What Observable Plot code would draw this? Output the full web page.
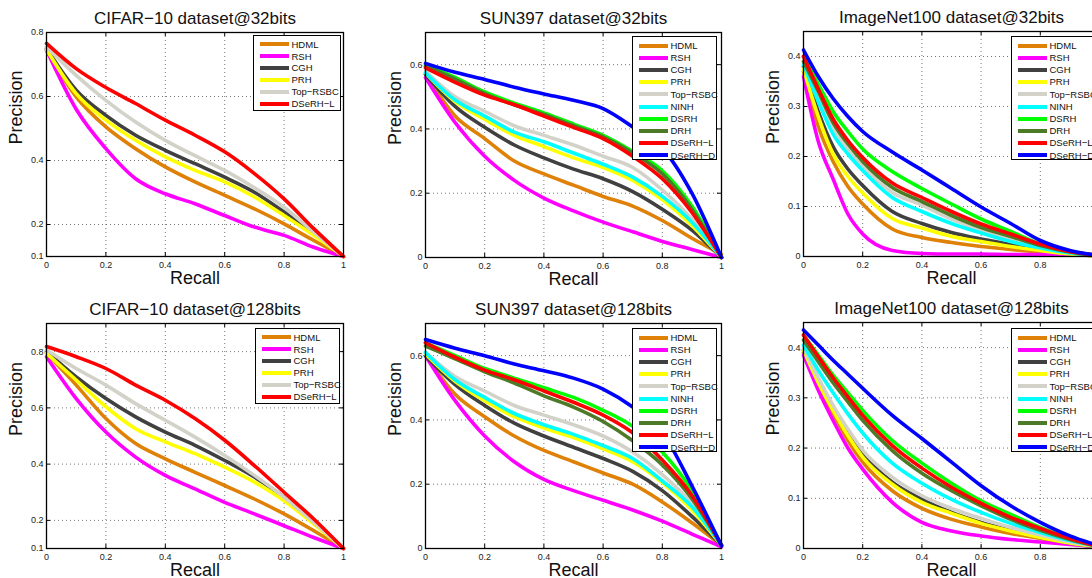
<!DOCTYPE html>
<html><head><meta charset="utf-8">
<script src="https://cdn.jsdelivr.net/npm/d3@7"></script>
<script src="https://cdn.jsdelivr.net/npm/@observablehq/plot@0.6"></script>
<style>
body{margin:0;background:#fff;}
#root{position:relative;width:1092px;height:578px;overflow:hidden;background:#fff;font-family:"Liberation Sans",Arial,Helvetica,sans-serif;}
.panel{position:absolute;}
.legend{position:absolute;border:1px solid #000;background:#fff;box-sizing:border-box;padding-top:2.5px;overflow:visible;}
.lrow{display:flex;align-items:center;white-space:nowrap;}
.sw{display:inline-block;margin-left:6px;width:28.5px;height:4px;flex:none;}
.lt{margin-left:3px;font-size:9.5px;line-height:1;color:#111;}
</style></head><body><div id="root"></div><script>
// ---- series names and colours (legend order = draw order) ----
const methods6  = ["HDML", "RSH", "CGH", "PRH", "Top−RSBC", "DSeRH−L"];
const methods10 = ["HDML", "RSH", "CGH", "PRH", "Top−RSBC", "NINH", "DSRH", "DRH", "DSeRH−L", "DSeRH−D"];
const methodColors = {
  "HDML": "#DF8107", "RSH": "#FF00FF", "CGH": "#404040", "PRH": "#FFFF00",
  "Top−RSBC": "#D3D2C9", "NINH": "#00FFFF", "DSRH": "#00FF00", "DRH": "#4D7A27",
  "DSeRH−L": "#FF0000", "DSeRH−D": "#0000FF"
};

// ---- recall sample points ----
const recall11 = [0, 0.1, 0.2, 0.3, 0.4, 0.5, 0.6, 0.7, 0.8, 0.9, 1];
const recall13 = [0, 0.05, 0.1, 0.15, 0.2, 0.3, 0.4, 0.5, 0.6, 0.7, 0.8, 0.9, 1];

// ---- tick labels ----
const xTicks = [0, 0.2, 0.4, 0.6, 0.8, 1];
const yTicksCifar = [0.1, 0.2, 0.4, 0.6, 0.8];
const yTicksSun = [0, 0.2, 0.4, 0.6];
const yTicksImageNet = [0, 0.1, 0.2, 0.3, 0.4];

// ---- precision values (rows follow methods6 / methods10 order) ----
const cifar32 = [
  [0.745, 0.599, 0.505, 0.437, 0.380, 0.333, 0.291, 0.249, 0.202, 0.150, 0.1],
  [0.745, 0.560, 0.437, 0.343, 0.296, 0.265, 0.228, 0.192, 0.166, 0.129, 0.1],
  [0.750, 0.620, 0.541, 0.479, 0.432, 0.390, 0.348, 0.301, 0.239, 0.171, 0.1],
  [0.747, 0.609, 0.526, 0.463, 0.411, 0.369, 0.333, 0.286, 0.228, 0.166, 0.1],
  [0.755, 0.666, 0.588, 0.520, 0.463, 0.415, 0.369, 0.315, 0.254, 0.176, 0.1],
  [0.766, 0.687, 0.628, 0.578, 0.526, 0.479, 0.427, 0.359, 0.280, 0.187, 0.1]
];
const sun32 = [
  [0.570, 0.440, 0.370, 0.300, 0.260, 0.225, 0.190, 0.160, 0.115, 0.060, 0.010],
  [0.560, 0.420, 0.315, 0.240, 0.185, 0.145, 0.110, 0.080, 0.050, 0.025, 0.000],
  [0.570, 0.470, 0.405, 0.350, 0.310, 0.275, 0.245, 0.205, 0.150, 0.085, 0.000],
  [0.575, 0.485, 0.430, 0.380, 0.345, 0.310, 0.280, 0.240, 0.180, 0.100, 0.000],
  [0.580, 0.500, 0.455, 0.410, 0.380, 0.350, 0.315, 0.280, 0.210, 0.120, 0.000],
  [0.575, 0.490, 0.440, 0.390, 0.360, 0.325, 0.290, 0.250, 0.190, 0.110, 0.000],
  [0.600, 0.560, 0.515, 0.480, 0.450, 0.415, 0.380, 0.330, 0.270, 0.160, 0.000],
  [0.595, 0.555, 0.510, 0.475, 0.445, 0.410, 0.375, 0.325, 0.260, 0.150, 0.000],
  [0.590, 0.545, 0.505, 0.475, 0.440, 0.405, 0.370, 0.315, 0.245, 0.140, 0.000],
  [0.604, 0.576, 0.554, 0.530, 0.509, 0.489, 0.463, 0.406, 0.340, 0.200, 0.000]
];
const imagenet32 = [
  [0.370, 0.260, 0.190, 0.140, 0.105, 0.055, 0.038, 0.028, 0.020, 0.014, 0.009, 0.004, 0.001],
  [0.360, 0.230, 0.155, 0.085, 0.045, 0.012, 0.006, 0.005, 0.005, 0.004, 0.004, 0.003, 0.002],
  [0.380, 0.290, 0.220, 0.175, 0.142, 0.090, 0.066, 0.048, 0.035, 0.024, 0.014, 0.006, 0.001],
  [0.375, 0.280, 0.205, 0.160, 0.127, 0.076, 0.057, 0.040, 0.030, 0.020, 0.012, 0.005, 0.001],
  [0.390, 0.320, 0.260, 0.213, 0.180, 0.128, 0.103, 0.075, 0.053, 0.035, 0.020, 0.008, 0.001],
  [0.385, 0.310, 0.245, 0.205, 0.172, 0.118, 0.090, 0.066, 0.047, 0.030, 0.017, 0.007, 0.001],
  [0.400, 0.345, 0.290, 0.250, 0.215, 0.170, 0.136, 0.105, 0.075, 0.050, 0.025, 0.010, 0.002],
  [0.390, 0.330, 0.268, 0.225, 0.190, 0.138, 0.110, 0.082, 0.058, 0.040, 0.022, 0.009, 0.001],
  [0.400, 0.335, 0.275, 0.232, 0.198, 0.147, 0.118, 0.090, 0.065, 0.045, 0.025, 0.010, 0.002],
  [0.413, 0.360, 0.316, 0.280, 0.250, 0.209, 0.173, 0.136, 0.099, 0.066, 0.032, 0.012, 0.002]
];
const cifar128 = [
  [0.794, 0.681, 0.562, 0.473, 0.419, 0.371, 0.324, 0.276, 0.223, 0.163, 0.1],
  [0.782, 0.633, 0.514, 0.425, 0.360, 0.312, 0.264, 0.223, 0.181, 0.139, 0.1],
  [0.800, 0.710, 0.633, 0.568, 0.514, 0.467, 0.413, 0.354, 0.282, 0.193, 0.1],
  [0.794, 0.699, 0.604, 0.526, 0.479, 0.437, 0.389, 0.336, 0.270, 0.187, 0.1],
  [0.806, 0.740, 0.681, 0.615, 0.556, 0.496, 0.431, 0.360, 0.282, 0.193, 0.1],
  [0.818, 0.782, 0.740, 0.681, 0.627, 0.562, 0.485, 0.395, 0.300, 0.205, 0.1]
];
const sun128 = [
  [0.600, 0.480, 0.410, 0.350, 0.305, 0.270, 0.235, 0.200, 0.145, 0.080, 0.010],
  [0.600, 0.460, 0.350, 0.270, 0.215, 0.180, 0.150, 0.120, 0.085, 0.045, 0.005],
  [0.600, 0.510, 0.445, 0.390, 0.350, 0.315, 0.280, 0.240, 0.180, 0.100, 0.010],
  [0.605, 0.520, 0.460, 0.410, 0.375, 0.345, 0.310, 0.270, 0.205, 0.120, 0.010],
  [0.610, 0.535, 0.490, 0.445, 0.415, 0.385, 0.350, 0.300, 0.230, 0.140, 0.010],
  [0.610, 0.525, 0.470, 0.420, 0.385, 0.355, 0.320, 0.280, 0.210, 0.130, 0.010],
  [0.640, 0.600, 0.560, 0.530, 0.500, 0.470, 0.430, 0.380, 0.300, 0.180, 0.010],
  [0.630, 0.590, 0.550, 0.515, 0.475, 0.440, 0.395, 0.335, 0.260, 0.155, 0.010],
  [0.640, 0.595, 0.555, 0.525, 0.490, 0.455, 0.415, 0.360, 0.275, 0.165, 0.010],
  [0.650, 0.623, 0.600, 0.574, 0.553, 0.530, 0.496, 0.440, 0.361, 0.195, 0.008]
];
const imagenet128 = [
  [0.390, 0.325, 0.270, 0.215, 0.172, 0.115, 0.080, 0.058, 0.043, 0.030, 0.020, 0.010, 0.003],
  [0.385, 0.315, 0.255, 0.200, 0.158, 0.092, 0.052, 0.035, 0.025, 0.018, 0.013, 0.008, 0.003],
  [0.395, 0.335, 0.280, 0.232, 0.189, 0.132, 0.098, 0.072, 0.052, 0.036, 0.022, 0.011, 0.003],
  [0.395, 0.330, 0.275, 0.225, 0.182, 0.128, 0.092, 0.070, 0.050, 0.035, 0.022, 0.011, 0.003],
  [0.400, 0.340, 0.285, 0.238, 0.196, 0.142, 0.105, 0.080, 0.060, 0.042, 0.027, 0.013, 0.004],
  [0.405, 0.355, 0.310, 0.268, 0.230, 0.170, 0.130, 0.098, 0.072, 0.050, 0.032, 0.016, 0.004],
  [0.425, 0.385, 0.345, 0.310, 0.275, 0.215, 0.170, 0.130, 0.095, 0.068, 0.042, 0.020, 0.004],
  [0.415, 0.372, 0.330, 0.292, 0.255, 0.195, 0.150, 0.115, 0.085, 0.058, 0.036, 0.018, 0.004],
  [0.425, 0.382, 0.340, 0.302, 0.265, 0.205, 0.160, 0.122, 0.090, 0.062, 0.040, 0.020, 0.004],
  [0.435, 0.405, 0.375, 0.347, 0.319, 0.265, 0.219, 0.172, 0.125, 0.085, 0.052, 0.025, 0.005]
];

// ---- layout (pixels) ----
const panels = [
  {title: "CIFAR−10 dataset@32bits", names: methods6, values: cifar32, recall: recall11, yDomain: [0.1, 0.8], yTicks: yTicksCifar,
   svg: {left: 0, top: 0, width: 364}, box: {l: 46, r: 343, t: 32, b: 256}, legend: {left: 253, top: 35, width: 88, height: 76, row: 11.9}},
  {title: "SUN397 dataset@32bits", names: methods10, values: sun32, recall: recall11, yDomain: [0, 0.7], yTicks: yTicksSun,
   svg: {left: 364, top: 0, width: 364}, box: {l: 425, r: 721, t: 32, b: 257}, legend: {left: 632, top: 36, width: 85, height: 124, row: 12.2}},
  {title: "ImageNet100 dataset@32bits", names: methods10, values: imagenet32, recall: recall13, yDomain: [0, 0.45], yTicks: yTicksImageNet,
   svg: {left: 728, top: 0, width: 380}, box: {l: 803, r: 1099, t: 31, b: 256}, legend: {left: 1011, top: 36, width: 85, height: 124, row: 12.2}},
  {title: "CIFAR−10 dataset@128bits", names: methods6, values: cifar128, recall: recall11, yDomain: [0.1, 0.9], yTicks: yTicksCifar,
   svg: {left: 0, top: 289, width: 364}, box: {l: 46, r: 343, t: 323, b: 548}, legend: {left: 255, top: 328, width: 85, height: 76, row: 11.9}},
  {title: "SUN397 dataset@128bits", names: methods10, values: sun128, recall: recall11, yDomain: [0, 0.7], yTicks: yTicksSun,
   svg: {left: 364, top: 289, width: 364}, box: {l: 425, r: 721, t: 323, b: 548}, legend: {left: 632, top: 328, width: 85, height: 124, row: 12.2}},
  {title: "ImageNet100 dataset@128bits", names: methods10, values: imagenet128, recall: recall13, yDomain: [0, 0.45], yTicks: yTicksImageNet,
   svg: {left: 728, top: 289, width: 380}, box: {l: 803, r: 1099, t: 322, b: 548}, legend: {left: 1011, top: 328, width: 85, height: 124, row: 12.2}}
];
const SVG_H = 289;
const fmt = d => String(d);
const root = document.getElementById("root");

for (const p of panels) {
  const s = p.svg, b = p.box;
  const fw = b.r - b.l, fh = b.b - b.t;
  const lines = p.names.map((name, i) =>
    Plot.line(p.recall.map((r, j) => ({recall: r, precision: p.values[i][j]})),
      {x: "recall", y: "precision", stroke: methodColors[name], strokeWidth: 3.6, curve: "monotone-x", strokeLinejoin: "round"}));
  const chart = Plot.plot({
    width: s.width, height: SVG_H,
    marginLeft: b.l - s.left, marginRight: s.left + s.width - b.r,
    marginTop: b.t - s.top, marginBottom: s.top + SVG_H - b.b,
    style: {background: "transparent", overflow: "visible", maxWidth: "none", fontFamily: "'Liberation Sans', Arial, Helvetica, sans-serif", color: "#000"},
    x: {domain: [0, 1]},
    y: {domain: p.yDomain},
    marks: [
      Plot.gridX({ticks: xTicks, stroke: "#555", strokeOpacity: 1, strokeWidth: 0.8, strokeDasharray: "1,3"}),
      Plot.gridY({ticks: p.yTicks, stroke: "#555", strokeOpacity: 1, strokeWidth: 0.8, strokeDasharray: "1,3"}),
      Plot.ruleX(xTicks, {insetTop: fh - 4, stroke: "#000"}),
      Plot.ruleX(xTicks, {insetBottom: fh - 4, stroke: "#000"}),
      Plot.ruleY(p.yTicks, {insetRight: fw - 4, stroke: "#000"}),
      Plot.ruleY(p.yTicks, {insetLeft: fw - 4, stroke: "#000"}),
      ...lines,
      Plot.frame({stroke: "#000", strokeWidth: 1.3}),
      Plot.axisX({ticks: xTicks, tickSize: 0, tickPadding: 5, fontSize: 9, tickFormat: fmt, label: null, fill: "#222"}),
      Plot.axisY({ticks: p.yTicks, tickSize: 0, tickPadding: 3, fontSize: 9, tickFormat: fmt, label: null, fill: "#222"}),
      Plot.text([p.title], {frameAnchor: "top", dy: -9, lineAnchor: "bottom", fontSize: 17, fill: "#111"}),
      Plot.text(["Recall"], {frameAnchor: "bottom", dy: 27, lineAnchor: "bottom", fontSize: 18, fill: "#111"}),
      Plot.text(["Precision"], {frameAnchor: "left", dx: -30, rotate: -90, fontSize: 18, fill: "#111"})
    ]
  });
  const holder = document.createElement("div");
  holder.className = "panel";
  holder.style.left = s.left + "px";
  holder.style.top = s.top + "px";
  holder.appendChild(chart);
  root.appendChild(holder);

  const L = p.legend;
  const lg = document.createElement("div");
  lg.className = "legend";
  Object.assign(lg.style, {left: L.left + "px", top: L.top + "px", width: L.width + "px", height: L.height + "px"});
  for (const name of p.names) {
    const row = document.createElement("div");
    row.className = "lrow";
    row.style.height = L.row + "px";
    const sw = document.createElement("span");
    sw.className = "sw";
    sw.style.background = methodColors[name];
    const t = document.createElement("span");
    t.className = "lt";
    t.textContent = name;
    row.appendChild(sw);
    row.appendChild(t);
    lg.appendChild(row);
  }
  root.appendChild(lg);
}
</script></body></html>
